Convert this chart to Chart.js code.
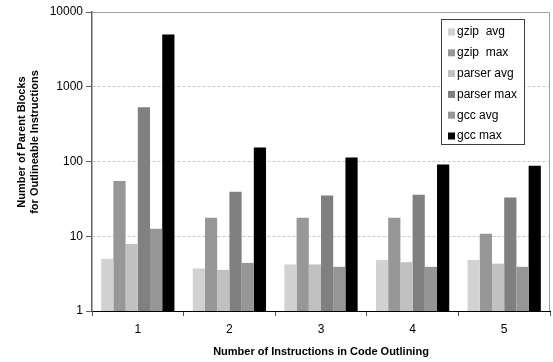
<!DOCTYPE html>
<html>
<head>
<meta charset="utf-8">
<script src="https://cdn.jsdelivr.net/npm/chart.js@4/dist/chart.umd.min.js"></script>
<style>
  html, body { margin: 0; padding: 0; background: #fff; }
  #wrap { width: 553px; height: 362px; }
</style>
</head>
<body>
<div id="wrap"><canvas id="c" width="553" height="362"></canvas></div>
<script>
// Outlining-window sizes on the x axis
const categories = ['1', '2', '3', '4', '5'];

// Parent-block counts per benchmark
const gzipAvg   = [5.0, 3.7, 4.2, 4.8, 4.8];
const gzipMax   = [55, 17.7, 17.7, 17.7, 10.8];
const parserAvg = [7.9, 3.55, 4.2, 4.5, 4.3];
const parserMax = [530, 39.5, 35, 36, 33];
const gccAvg    = [12.6, 4.4, 3.9, 3.9, 3.9];
const gccMax    = [5000, 154, 113, 91, 88];

const seriesLabels = ['gzip  avg', 'gzip  max', 'parser avg', 'parser max', 'gcc avg', 'gcc max'];
const yTicks = [1, 10, 100, 1000, 10000];

const yTitle = ['Number of Parent Blocks', 'for Outlineable Instructions'];
const xTitle = 'Number of Instructions in Code Outlining';

const FONT = '"Liberation Sans", Arial, sans-serif';
const colors = ['#d2d2d2', '#979797', '#c1c1c1', '#808080', '#969696', '#000000'];
const seriesData = [gzipAvg, gzipMax, parserAvg, parserMax, gccAvg, gccMax];

// Plot frame (top/right), axis titles and the boxed legend
const decorations = {
  id: 'decorations',
  afterDatasetsDraw(chart) {
    const { ctx, chartArea: a } = chart;
    ctx.save();
    ctx.strokeStyle = '#a0a0a0';
    ctx.lineWidth = 1;
    ctx.beginPath();
    ctx.moveTo(a.left, a.top + 0.5);
    ctx.lineTo(a.right - 0.5, a.top + 0.5);
    ctx.lineTo(a.right - 0.5, a.bottom);
    ctx.stroke();
    ctx.restore();
  },
  afterDraw(chart) {
    const { ctx, chartArea: a } = chart;
    ctx.save();
    ctx.fillStyle = '#000';
    ctx.font = 'bold 11px ' + FONT;
    ctx.textAlign = 'center';
    ctx.textBaseline = 'middle';
    ctx.fillText(xTitle, (a.left + a.right) / 2, 352);

    ctx.save();
    ctx.translate(0, 142);
    ctx.rotate(-Math.PI / 2);
    ctx.fillText(yTitle[0], 0, 22);
    ctx.fillText(yTitle[1], 0, 35);
    ctx.restore();

    // legend
    const lx = 441, ly = 19, lw = 83, lh = 125;
    ctx.fillStyle = '#fff';
    ctx.fillRect(lx, ly, lw, lh);
    ctx.strokeStyle = '#404040';
    ctx.lineWidth = 1;
    ctx.strokeRect(lx + 0.5, ly + 0.5, lw, lh);
    ctx.font = '12px ' + FONT;
    ctx.textAlign = 'left';
    chart.data.datasets.forEach((ds, i) => {
      const cy = ly + 12.5 + i * 20.8;
      ctx.fillStyle = ds.backgroundColor;
      ctx.fillRect(lx + 7, cy - 3, 7, 7);
      ctx.fillStyle = '#000';
      ctx.fillText(ds.label, lx + 16, cy + 0.5);
    });
    ctx.restore();
  }
};

new Chart(document.getElementById('c'), {
  type: 'bar',
  data: {
    labels: categories,
    datasets: seriesLabels.map((label, i) => ({
      label,
      data: seriesData[i],
      backgroundColor: colors[i],
      borderWidth: 0,
      categoryPercentage: 0.8,
      barPercentage: 1.0
    }))
  },
  options: {
    responsive: false,
    animation: false,
    devicePixelRatio: 1,
    layout: { padding: { top: 12, right: 3, left: 0, bottom: 0 } },
    plugins: {
      legend: { display: false },
      tooltip: { enabled: false },
      title: { display: false }
    },
    scales: {
      x: {
        afterFit(scale) { scale.height = 51; },
        grid: {
          display: true,
          drawOnChartArea: false,
          drawTicks: true,
          tickLength: 5,
          tickColor: '#555',
          offset: true
        },
        border: { display: true, color: '#000', width: 1 },
        ticks: {
          color: '#000',
          padding: 6,
          font: { family: FONT, size: 12 }
        }
      },
      y: {
        type: 'logarithmic',
        min: 1,
        max: 10000,
        afterFit(scale) { scale.width = 92; },
        afterBuildTicks(scale) {
          scale.ticks = yTicks.map(v => ({ value: v }));
        },
        grid: {
          color: ctx => (ctx.tick && (ctx.tick.value === 1 || ctx.tick.value === 10000)) ? 'rgba(0,0,0,0)' : '#c8c8c8',
          lineWidth: 1,
          tickColor: '#606060',
          tickLength: 6,
          drawTicks: true
        },
        border: { display: true, color: '#606060', width: 1.5, dash: [3, 2] },
        ticks: {
          color: '#000',
          padding: 3,
          font: { family: FONT, size: 12 },
          callback: v => String(v)
        }
      }
    }
  },
  plugins: [decorations]
});
</script>
</body>
</html>
